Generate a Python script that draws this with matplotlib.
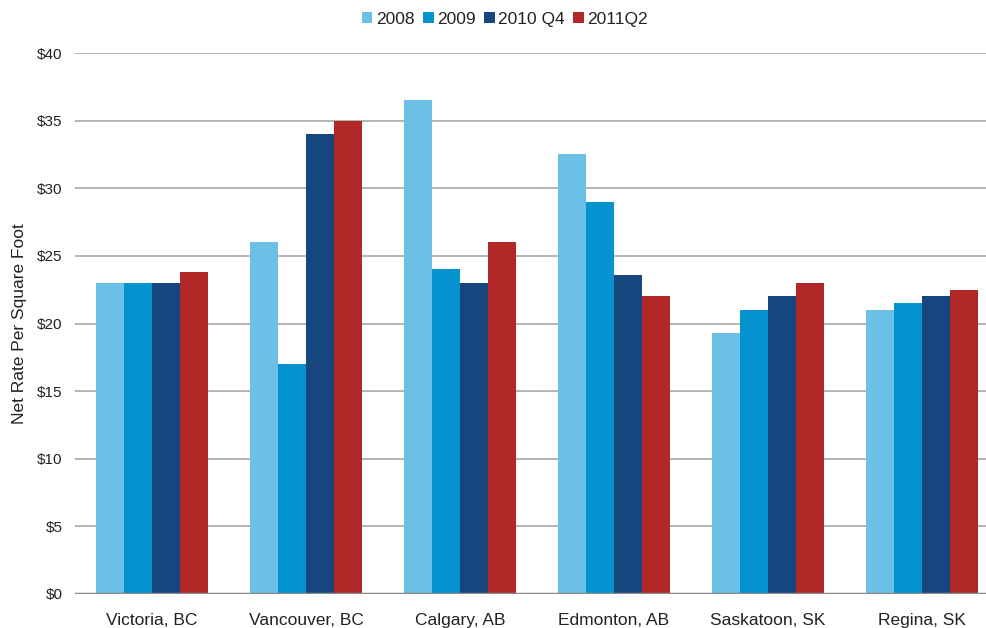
import numpy as np
import matplotlib.pyplot as plt

plt.rcParams["font.family"] = ["Liberation Sans", "DejaVu Sans"]

cities = ["Victoria, BC", "Vancouver, BC", "Calgary, AB", "Edmonton, AB", "Saskatoon, SK", "Regina, SK"]
series_names = ["2008", "2009", "2010 Q4", "2011Q2"]
rate_2008 = [23.0, 26.0, 36.5, 32.5, 19.3, 21.0]
rate_2009 = [23.0, 17.0, 24.0, 29.0, 21.0, 21.5]
rate_2010q4 = [23.0, 34.0, 23.0, 23.6, 22.0, 22.0]
rate_2011q2 = [23.8, 35.0, 26.0, 22.0, 23.0, 22.5]
y_ticks = [0, 5, 10, 15, 20, 25, 30, 35, 40]

colors = ["#6cc0e5", "#0593d0", "#15467d", "#b22828"]
rates = [rate_2008, rate_2009, rate_2010q4, rate_2011q2]

fig = plt.figure(figsize=(9.87, 6.28), dpi=100)
ax = fig.add_axes([75 / 987, 1 - 594 / 628, 924 / 987, 541 / 628])

x = np.arange(len(cities))
w = 0.182
for i, (vals, name, c) in enumerate(zip(rates, series_names, colors)):
    ax.bar(x + (i - 1.5) * w, vals, width=w, color=c, label=name, zorder=3)

ax.set_xlim(-0.5, len(cities) - 0.5)
ax.set_ylim(0, 40)
ax.set_yticks(y_ticks)
ax.set_yticklabels([f"${v}" for v in y_ticks])
ax.set_xticks(x)
ax.set_xticklabels(cities)
ax.tick_params(axis="both", length=0, colors="#222222")
ax.tick_params(axis="y", pad=9, labelsize=11)
ax.tick_params(axis="x", pad=14, labelsize=12.5)

for s in ax.spines.values():
    s.set_visible(False)
ax.yaxis.grid(True, color="#a8a8a8", linewidth=1.2, zorder=0)
ax.axhline(0, color="#8a8a8a", linewidth=2.5, zorder=4)

ax.set_ylabel("Net Rate Per Square Foot", fontsize=12.5, color="#222222", labelpad=7)

handles, labels = ax.get_legend_handles_labels()
fig.legend(handles, labels, loc="upper center", bbox_to_anchor=(505 / 987, 1 + 4 / 628),
           ncol=4, frameon=False, fontsize=12.5, handlelength=0.6, handleheight=0.6,
           handletextpad=0.2, columnspacing=0.5, labelcolor="#222222")

fig.savefig("out.png", dpi=100)
